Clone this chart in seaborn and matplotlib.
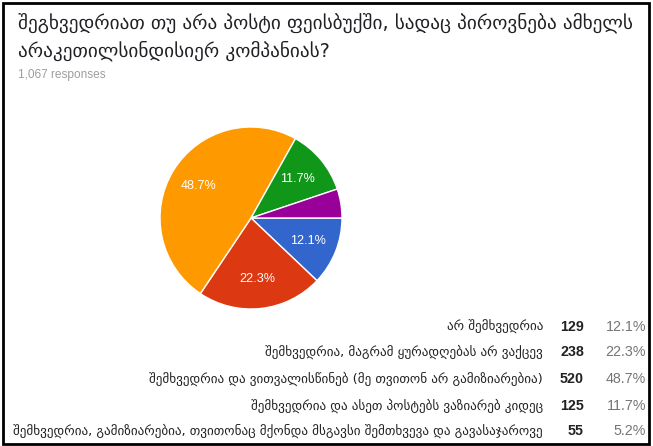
import matplotlib
matplotlib.use("Agg")
import matplotlib.pyplot as plt
from matplotlib.patches import Rectangle
import seaborn as sns

# Survey answers (Georgian), response counts
categories = [
    "არ შემხვედრია",
    "შემხვედრია, მაგრამ ყურადღებას არ ვაქცევ",
    "შემხვედრია და ვითვალისწინებ (მე თვითონ არ გამიზიარებია)",
    "შემხვედრია და ასეთ პოსტებს ვაზიარებ კიდეც",
    "შემხვედრია, გამიზიარებია, თვითონაც მქონდა მსგავსი შემთხვევა და გავასაჯაროვე",
]
counts = [129, 238, 520, 125, 55]
title_lines = [
    "შეგხვედრიათ თუ არა პოსტი ფეისბუქში, სადაც პიროვნება ამხელს",
    "არაკეთილსინდისიერ კომპანიას?",
]
colors = ["#3366CC", "#DC3912", "#FF9900", "#109618", "#990099"]

sns.set_theme(style="white")
plt.rcParams["font.family"] = ["DejaVu Sans"]

W, H = 653, 446
fig = plt.figure(figsize=(W / 100, H / 100), dpi=100)
fig.patch.set_facecolor("white")

def fx(px):
    return px / W

def fy(py):
    return 1 - py / H

total = sum(counts)
palette = sns.color_palette(colors)

# pie axes: centre (251, 218) px, radius 91 px
cx, cy, r = 251, 218, 91
ax = fig.add_axes([fx(cx - r), fy(cy + r), 2 * r / W, 2 * r / H])
ax.set_axis_off()

def pct_label(p):
    return f"{p:.1f}%" if p >= 6 else ""

wedges, texts, autotexts = ax.pie(
    counts,
    colors=palette,
    startangle=0,
    counterclock=False,
    radius=1.0,
    autopct=pct_label,
    pctdistance=0.67,
    wedgeprops=dict(edgecolor="white", linewidth=1.0),
    textprops=dict(color="white", fontsize=9.1, family="Liberation Sans"),
)
ax.set_xlim(-1, 1)
ax.set_ylim(-1, 1)

# title and response count
fig.text(fx(18), fy(23), title_lines[0], fontsize=13.85, color="#202124",
         va="center", ha="left")
fig.text(fx(18), fy(51), title_lines[1], fontsize=13.85, color="#202124",
         va="center", ha="left")
fig.text(fx(18), fy(75), f"{total:,} responses", fontsize=8.6, color="#9e9e9e",
         va="center", ha="left", family="Liberation Sans")

# legend table
row_y = [327, 352, 379, 406, 431]
for lab, n, yy in zip(categories, counts, row_y):
    fig.text(fx(543), fy(yy), lab, fontsize=9.45, color="#222222",
             ha="right", va="center")
    fig.text(fx(584), fy(yy), f"{n}", fontsize=10.3, color="#222222",
             ha="right", va="center", weight="bold", family="Liberation Sans")
    fig.text(fx(646), fy(yy), f"{100 * n / total:.1f}%", fontsize=10.3,
             color="#757575", ha="right", va="center", family="Liberation Sans")

# outer frame
fig.patches.append(Rectangle((fx(3), fy(444)), fx(646), (441) / H,
                             transform=fig.transFigure, fill=False,
                             edgecolor="black", linewidth=2.0))

fig.savefig("out.png", dpi=100, facecolor="white")
